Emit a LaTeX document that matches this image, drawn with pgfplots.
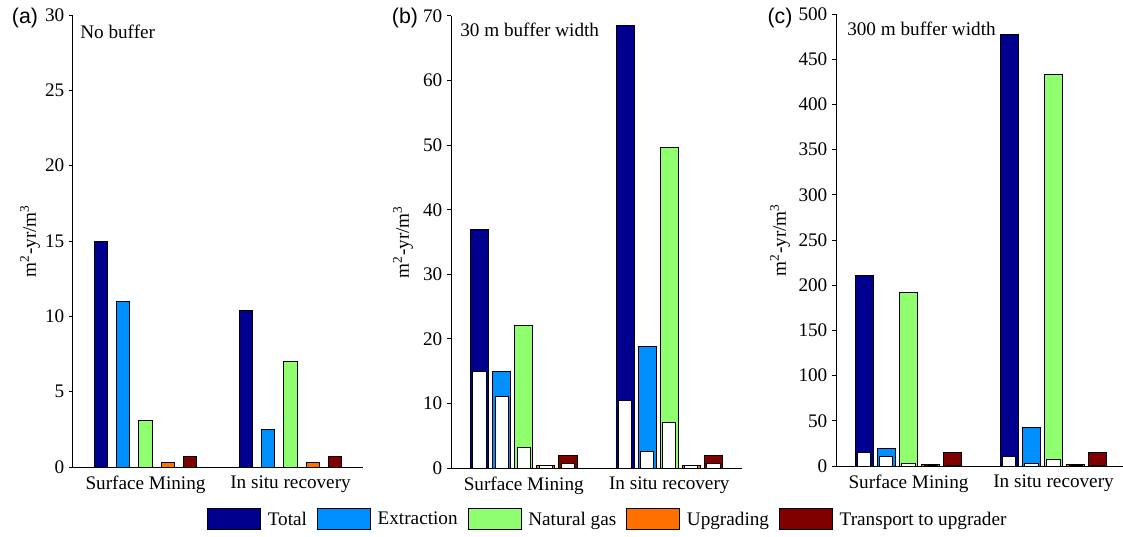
\documentclass[border=0pt]{standalone}
\usepackage{fontspec}
\setmainfont{Liberation Serif}
\setsansfont{Liberation Sans}
\usepackage{pgfplots}
\pgfplotsset{compat=1.18}
\definecolor{cTot}{rgb}{0,0,0.5625}
\definecolor{cExt}{rgb}{0,0.5625,1}
\definecolor{cGas}{rgb}{0.5625,1,0.4375}
\definecolor{cUpg}{rgb}{1,0.4375,0}
\definecolor{cTra}{rgb}{0.5,0,0}
\newcommand{\fs}{\fontsize{14.4}{17}\selectfont}
\pgfplotsset{
 panel/.style={
  scale only axis, width=217.5pt, height=339pt,
  axis x line=bottom, axis y line=left,
  axis line style={-, line width=0.75pt},
  xmin=0.5, xmax=2.5, ymin=0,
  xtick={1,2}, xticklabels={Surface Mining, In situ recovery},
  x tick style={draw=none},
  y tick style={line width=0.75pt, black},
  tick align=outside, major tick length=3pt,
  tick label style={font=\fs},
  label style={font=\fs},
  /pgf/number format/assume math mode=true,
  ylabel={m\textsuperscript{2}-yr/m\textsuperscript{3}},
  clip=false,
 },
 cbar/.style={ybar, bar shift=0pt, bar width=0.09, draw=black, line width=0.75pt, fill=#1,
   legend image code/.code={\draw[##1, draw=black, line width=0.75pt] (0pt,-7.875pt) rectangle (39.75pt,7.875pt);}},
 wbar/.style={cbar=white, forget plot},
}
\begin{document}
\begin{tikzpicture}
\useasboundingbox (0,0) rectangle (842.25pt,402pt);
% ---------- (a) ----------
\begin{axis}[panel, at={(54.75pt,51.75pt)}, anchor=south west,
  ymax=30, ytick={0,5,...,30},
  ylabel style={at={(axis description cs:-0.148,0.5)}, anchor=center}]
\addplot[cbar=cTot] coordinates {(0.696,15.0) (1.696,10.4)};
\addplot[cbar=cExt] coordinates {(0.848,11.0) (1.848,2.5)};
\addplot[cbar=cGas] coordinates {(1.000,3.1) (2.000,7.0)};
\addplot[cbar=cUpg] coordinates {(1.152,0.33) (2.152,0.33)};
\addplot[cbar=cTra] coordinates {(1.304,0.7) (2.304,0.7)};
\end{axis}
% ---------- (b) ----------
\begin{axis}[panel, at={(338.25pt,51pt)}, anchor=south west, width=218.25pt,
  ymax=70, ytick={0,10,...,70},
  ylabel style={at={(axis description cs:-0.165,0.5)}, anchor=center},
  legend columns=5,
  legend style={draw=none, fill=none, font=\fs, at={(0.54,-0.1137)}, anchor=center,
    /tikz/every odd column/.append style={column sep=3pt},
    /tikz/every even column/.append style={column sep=5.5pt}}]
\addplot[cbar=cTot, bar width=0.124] coordinates {(0.696,36.9) (1.696,68.6)};
\addlegendentry{Total}
\addplot[cbar=cExt, bar width=0.124] coordinates {(0.848,15.0) (1.848,18.8)};
\addlegendentry{Extraction}
\addplot[cbar=cGas, bar width=0.124] coordinates {(1.000,22.1) (2.000,49.7)};
\addlegendentry{Natural gas}
\addplot[cbar=cUpg, bar width=0.124] coordinates {(1.152,0.36) (2.152,0.36)};
\addlegendentry{Upgrading}
\addplot[cbar=cTra, bar width=0.124] coordinates {(1.304,2.0) (2.304,2.0)};
\addlegendentry{Transport to upgrader}
\addplot[wbar] coordinates {(0.696,15.0) (1.696,10.4)};
\addplot[wbar] coordinates {(0.848,11.0) (1.848,2.5)};
\addplot[wbar] coordinates {(1.000,3.1) (2.000,7.0)};
\addplot[wbar] coordinates {(1.152,0.33) (2.152,0.33)};
\addplot[wbar] coordinates {(1.304,0.7) (2.304,0.7)};
\end{axis}
% ---------- (c) ----------
\begin{axis}[panel, at={(627pt,52.5pt)}, anchor=south west,
  ymax=500, ytick={0,50,...,500},
  ylabel style={at={(axis description cs:-0.193,0.5)}, anchor=center}]
\addplot[cbar=cTot, bar width=0.124] coordinates {(0.696,211) (1.696,477)};
\addplot[cbar=cExt, bar width=0.124] coordinates {(0.848,19) (1.848,43)};
\addplot[cbar=cGas, bar width=0.124] coordinates {(1.000,192) (2.000,433)};
\addplot[cbar=cUpg, bar width=0.124] coordinates {(1.152,1.2) (2.152,1.2)};
\addplot[cbar=cTra, bar width=0.124] coordinates {(1.304,15) (2.304,15)};
\addplot[wbar] coordinates {(0.696,15.0) (1.696,10.4)};
\addplot[wbar] coordinates {(0.848,11.0) (1.848,2.5)};
\addplot[wbar] coordinates {(1.000,3.1) (2.000,7.0)};
\addplot[wbar] coordinates {(1.152,0.33) (2.152,0.33)};
\addplot[wbar] coordinates {(1.304,0.7) (2.304,0.7)};
\end{axis}
% ---------- panel labels and notes ----------
\node[font=\sffamily\fontsize{16}{19}\selectfont] at (18.75pt,388.5pt) {(a)};
\node[font=\sffamily\fontsize{16}{19}\selectfont] at (303.75pt,388.5pt) {(b)};
\node[font=\sffamily\fontsize{16}{19}\selectfont] at (585pt,388.5pt) {(c)};
\node[font=\fs, anchor=west, inner sep=0pt] at (60pt,378pt) {No buffer};
\node[font=\fs, anchor=west, inner sep=0pt] at (345pt,379.5pt) {30 m buffer width};
\node[font=\fs, anchor=west, inner sep=0pt] at (635.25pt,380.25pt) {300 m buffer width};
\end{tikzpicture}
\end{document}
